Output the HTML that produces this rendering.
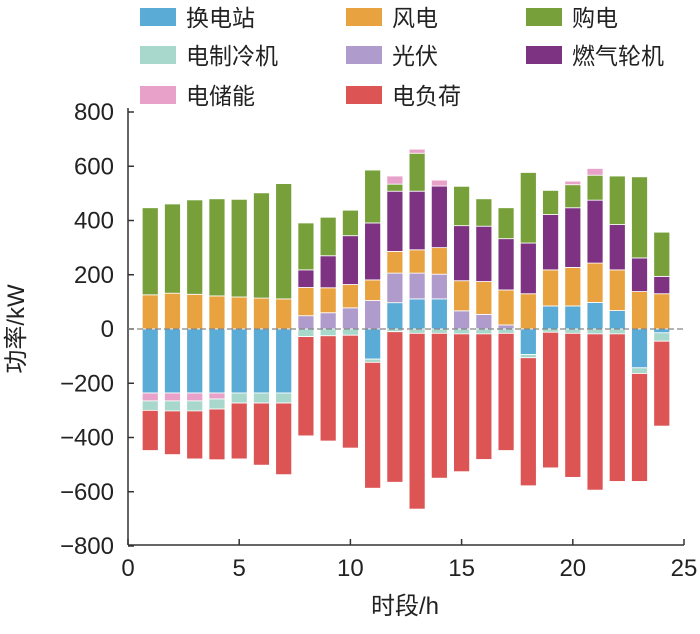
<!DOCTYPE html>
<html><head><meta charset="utf-8"><style>
body{margin:0;background:#fff;}
svg text{font-family:"Liberation Sans","Noto Sans CJK SC",sans-serif;fill:#222;}
</style></head><body>
<svg id="chart" width="700" height="629" viewBox="0 0 700 629" xmlns="http://www.w3.org/2000/svg">
<g id="legend"></g>
<g id="axes"></g>
<g id="bars"></g>
<text x="24" y="329" font-size="24" text-anchor="middle" transform="rotate(-90 24 329)">功率/kW</text>
<text x="405" y="614" font-size="24" text-anchor="middle">时段/h</text>
</svg>
<script>
const hours = [1,2,3,4,5,6,7,8,9,10,11,12,13,14,15,16,17,18,19,20,21,22,23,24];
const swapStation = [-236,-236,-236,-236,-236,-236,-236,0,0,0,-111,97,111,111,0,0,0,-94,85,85,98,68,-143,-14];
const pv = [0,0,0,0,0,0,0,49,60,78,105,109,95,91,67,54,15,0,0,0,0,0,0,0];
const wind = [126,132,128,122,118,114,111,104,92,86,76,80,86,98,111,121,129,130,133,142,145,150,138,130];
const gasTurbine = [0,0,0,0,0,0,0,65,118,180,210,222,216,227,203,204,189,187,204,220,232,167,124,64];
const grid = [321,329,348,358,360,388,425,173,142,94,195,26,140,0,145,101,114,260,89,85,92,179,299,163];
const storage = [-29,-29,-29,-22,0,0,0,0,0,0,0,30,15,22,0,0,0,0,0,13,25,0,0,0];
const chiller = [-35,-37,-37,-37,-37,-37,-37,-28,-25,-23,-12,-10,-16,-16,-18,-18,-16,-12,-12,-16,-18,-18,-21,-31];
const load = [-148,-161,-177,-187,-206,-229,-264,-366,-388,-416,-464,-555,-648,-534,-508,-463,-432,-472,-500,-531,-576,-544,-398,-313];
const yTicks = [800,600,400,200,0,-200,-400,-600,-800];
const xTicks = [0,5,10,15,20,25];

const NS="http://www.w3.org/2000/svg";
const X0=128,X1=684,Y0=329,YTOP=112,YBOT=545;
const xs=v=>X0+(v/25)*(X1-X0);
const ys=v=>Y0-(v/800)*(Y0-YTOP);
function mk(tag,attrs,parent){const e=document.createElementNS(NS,tag);for(const k in attrs)e.setAttribute(k,attrs[k]);parent.appendChild(e);return e;}

const series=[
 {name:"换电站",key:"swap-station",data:swapStation,color:"#5aabd6"},
 {name:"风电",key:"wind",data:wind,color:"#e8a240"},
 {name:"购电",key:"grid",data:grid,color:"#77a03a"},
 {name:"电制冷机",key:"chiller",data:chiller,color:"#a8d8cc"},
 {name:"光伏",key:"pv",data:pv,color:"#b09ccc"},
 {name:"燃气轮机",key:"gas-turbine",data:gasTurbine,color:"#7d3282"},
 {name:"电储能",key:"storage",data:storage,color:"#e8a1c8"},
 {name:"电负荷",key:"load",data:load,color:"#dc5454"}
];
const byKey={};series.forEach(s=>byKey[s.key]=s);
const posOrder=["swap-station","pv","wind","gas-turbine","grid","storage"];
const negOrder=["swap-station","storage","chiller","load"];

const lg=document.getElementById('legend');
const colX=[140,346,526],rowY=[17,55,95];
series.forEach((s,i)=>{
  const cx=colX[i%3],cy=rowY[Math.floor(i/3)];
  const r=mk('rect',{x:cx,y:cy-9,width:36,height:18,fill:s.color},lg);
  
  
  const t=mk('text',{x:cx+46,y:cy+9,'font-size':23},lg);
  t.textContent=s.name;
  
  
});

const ax=document.getElementById('axes');
const yl=mk('line',{x1:X0,y1:YTOP-4,x2:X0,y2:YBOT,stroke:'#333','stroke-width':1.5},ax);


const xl=mk('line',{x1:X0,y1:YBOT,x2:X1,y2:YBOT,stroke:'#333','stroke-width':1.5},ax);


yTicks.forEach(v=>{
  const y=ys(v);
  mk('line',{x1:X0,y1:y,x2:X0+6,y2:y,stroke:'#333','stroke-width':1.5},ax);
  const t=mk('text',{x:X0-14,y:y+8,'font-size':24,'text-anchor':'end'},ax);
  t.textContent=(v<0?'\u2212'+(-v):String(v));
  
  
});
xTicks.forEach(v=>{
  const x=xs(v);
  mk('line',{x1:x,y1:YBOT,x2:x,y2:YBOT-6,stroke:'#333','stroke-width':1.5},ax);
  const t=mk('text',{x:x,y:YBOT+31,'font-size':24,'text-anchor':'middle'},ax);
  t.textContent=String(v);
  
  
});

const bg=document.getElementById('bars');
const bw=(X1-X0)/25*0.72;
hours.forEach((h,i)=>{
  const cx=xs(h);
  let pos=0,neg=0;
  posOrder.forEach(k=>{
    const v=byKey[k].data[i];
    if(v>0){const r=mk('rect',{x:cx-bw/2,y:ys(pos+v),width:bw,height:ys(pos)-ys(pos+v),fill:byKey[k].color,stroke:'#fff','stroke-width':0.8},bg);
      
      
      pos+=v;}
  });
  negOrder.forEach(k=>{
    const v=byKey[k].data[i];
    if(v<0){const r=mk('rect',{x:cx-bw/2,y:ys(neg),width:bw,height:ys(neg+v)-ys(neg),fill:byKey[k].color,stroke:'#fff','stroke-width':0.8},bg);
      
      
      neg+=v;}
  });
});
const zl=mk('line',{x1:X0,y1:ys(0),x2:X1,y2:ys(0),stroke:'#888','stroke-width':1.2,'stroke-dasharray':'6 3'},bg);


</script>
</body></html>
